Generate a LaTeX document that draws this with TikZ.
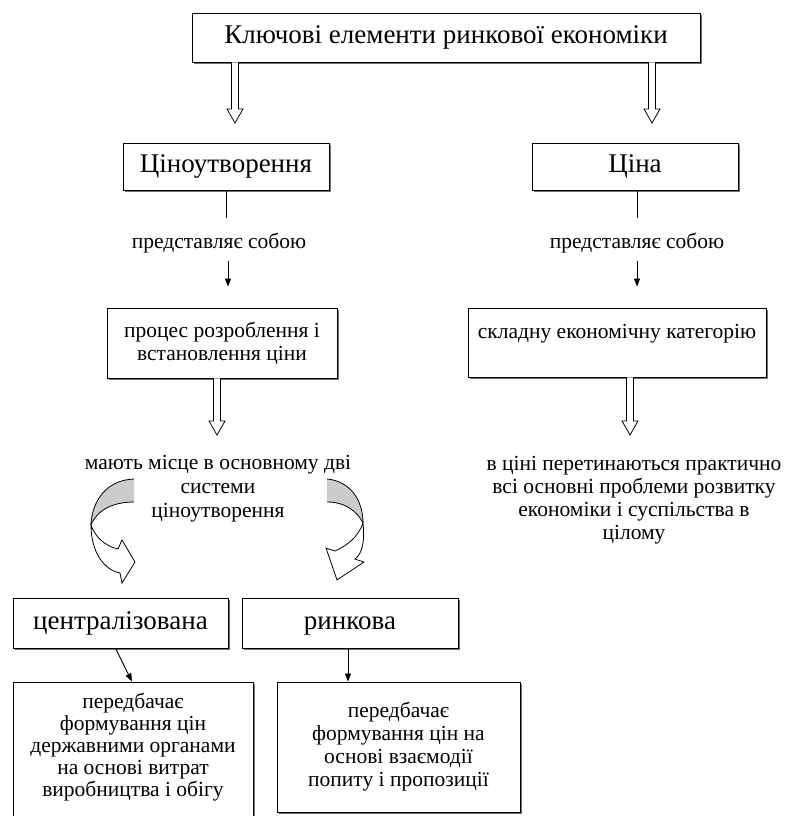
\documentclass[tikz,border=0pt]{standalone}
\usepackage{fontspec}
\setmainfont{Liberation Serif}
\usetikzlibrary{arrows.meta,calc,shadows}
\tikzset{
  box/.style={draw, line width=0.9pt, fill=white, inner sep=0pt, align=center,
    drop shadow={shadow xshift=1.8pt, shadow yshift=-1.8pt, fill=black!55, opacity=1},
    font=\fontsize{21.5}{23}\selectfont},
  bigbox/.style={box, font=\fontsize{27}{30}\selectfont, text height=18pt, text depth=6pt},
  plain/.style={inner sep=0pt, align=center, font=\fontsize{21.5}{23}\selectfont},
  pointer/.style={line width=0.9pt, -{Triangle[length=8pt,width=6pt]}},
  hollow/.style={line width=0.8pt, fill=white},
  bandline/.style={line width=0.8pt}
}
\newcommand{\hollowdown}[2]{%
  \filldraw[hollow] ($(#1)+(-3.5,0)$) -- ($(#2)+(-3.5,-14)$) -- ($(#2)+(-8,-14)$) -- (#2)
    -- ($(#2)+(8,-14)$) -- ($(#2)+(3.5,-14)$) -- ($(#1)+(3.5,0)$);}

\begin{document}
\begin{tikzpicture}[x=1pt,y=-1pt]
  \fill[white] (0,0) rectangle (806,816);
  \useasboundingbox (0,0) rectangle (806,816);

  \node[bigbox, minimum width=508pt, minimum height=49pt] (key) at (446,37.5) {Ключові елементи ринкової економіки};
  \node[bigbox, minimum width=206pt, minimum height=47pt] (pricing) at (226,166.5) {Ціноутворення};
  \node[bigbox, minimum width=206pt, minimum height=47pt] (price) at (635,166.5) {Ціна};
  \coordinate (tipA) at (235,123);
  \coordinate (tipB) at (652,123);
  \hollowdown{key.south -| tipA}{tipA}
  \hollowdown{key.south -| tipB}{tipB}

  \node[plain] (repL) at (219,243) {представляє собою};
  \node[plain] (repR) at (637,243) {представляє собою};
  \coordinate (stubL) at (226,218);
  \coordinate (stubR) at (637,218);
  \draw[line width=0.9pt] (pricing.south) -- (stubL);
  \draw[line width=0.9pt] (price.south -| stubR) -- (stubR);

  \node[box, minimum width=230pt, minimum height=70pt] (process) at (222,343) {процес розроблення і\\встановлення ціни};
  \node[box, minimum width=298pt, minimum height=69pt] (category) at (617,342.5) {складну економічну категорію\\\mbox{}};
  \draw[pointer, shorten <=8pt, shorten >=21pt] ([xshift=9pt]repL.south) -- ([xshift=9pt]repL.south |- process.north);
  \draw[pointer, shorten <=8pt, shorten >=21pt] (repR.south) -- (repR.south |- category.north);

  \coordinate (tipC) at (217,435);
  \coordinate (tipD) at (630,435);
  \hollowdown{process.south -| tipC}{tipC}
  \hollowdown{category.south -| tipD}{tipD}

  \node[plain, font=\fontsize{21.5}{24}\selectfont] (systems) at (218,489) {мають місце в основному дві\\системи\\ціноутворення};
  \node[plain] (problems) at (634,500.5) {в ціні перетинаються практично\\всі основні проблеми розвитку\\економіки і суспільства в\\цілому};

  \fill[gray!40] (134,479) .. controls (107,480) and (92,500) .. (91,525) .. controls (97,510) and (113,502) .. (134,502) -- cycle;
  \draw[bandline] (134,479) .. controls (107,480) and (92,500) .. (91,525);
  \draw[bandline] (134,502) .. controls (113,502) and (97,510) .. (91,525);
  \filldraw[bandline, fill=white] (91,525) .. controls (91,552) and (104,570) .. (120,573) -- (122,583) -- (135,562)
    -- (122,540) -- (118,549) .. controls (105,546) and (95,537) .. (91,525) -- cycle;

  \fill[gray!40] (327,479) .. controls (350,481) and (363,500) .. (363,523) .. controls (357,511) and (345,502) .. (327,502) -- cycle;
  \draw[bandline] (327,479) .. controls (350,481) and (363,500) .. (363,523);
  \draw[bandline] (327,502) .. controls (345,502) and (357,511) .. (363,523);
  \filldraw[bandline, fill=white] (363,523) .. controls (365,542) and (362,554) .. (355,559) -- (364,562) -- (337,580)
    -- (326,548) -- (335,551) .. controls (348,545) and (358,537) .. (363,523) -- cycle;

  \node[bigbox, minimum width=215pt, minimum height=50pt] (central) at (120.5,623) {централізована};
  \node[bigbox, minimum width=216pt, minimum height=50pt] (market) at (350,623) {ринкова};
  \node[box, minimum width=240pt, minimum height=138pt, font=\fontsize{21.5}{22}\selectfont] (centralD) at (133,751) {передбачає\\формування цін\\державними органами\\на основі витрат\\виробництва і обігу\\[-10pt]\mbox{}};
  \node[box, minimum width=243pt, minimum height=130pt] (marketD) at (398.5,747) {передбачає\\формування цін на\\основі взаємодії\\попиту і пропозиції};
  \draw[pointer] ([xshift=-5pt]central.south) -- ([xshift=-1pt]centralD.north);
  \draw[pointer] ([xshift=-2pt]market.south) -- ([xshift=-2pt]market.south |- marketD.north);
\end{tikzpicture}
\end{document}
